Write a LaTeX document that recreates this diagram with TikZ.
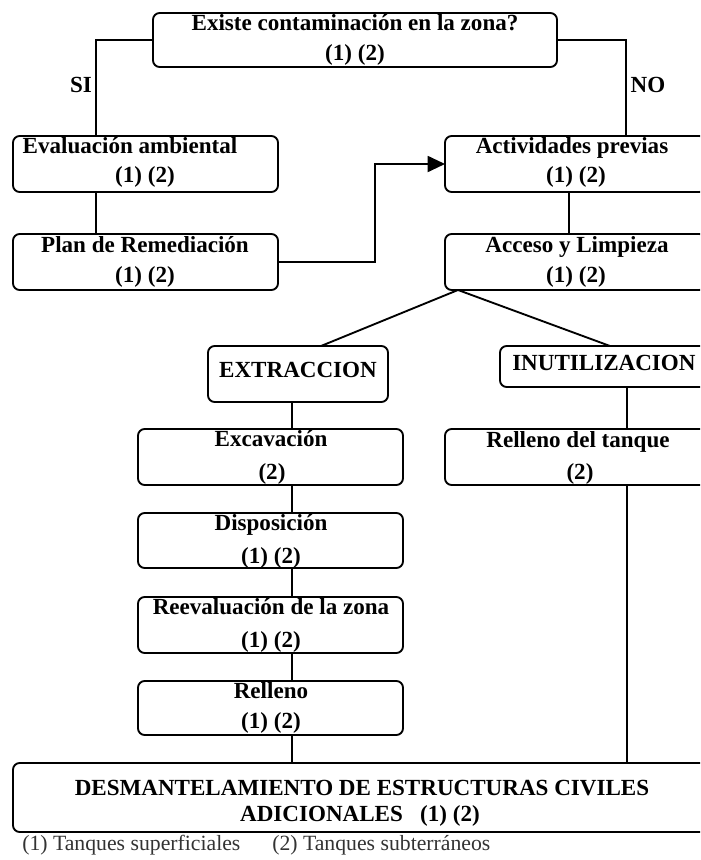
\documentclass[tikz,border=0pt]{standalone}
\usepackage{fontspec}
\setmainfont{Liberation Serif}
\usetikzlibrary{arrows.meta,fit}
\begin{document}
\begin{tikzpicture}[x=0.75pt,y=-0.75pt,
  box/.style={draw, rounded corners=5pt, line width=1.4pt, inner sep=0pt, outer sep=0pt},
  lbl/.style={font=\fontsize{17.3}{20}\selectfont\bfseries, inner sep=0pt, text height=0.7em, text depth=0.2em},
  note/.style={font=\fontsize{16.3}{18}\selectfont, inner sep=0pt, anchor=west, text=black!80, text height=0.7em, text depth=0.2em},
  conn/.style={line width=1.4pt},
]
\clip (0,0) rectangle (700,860);
% boxes
\node[box, fit={(153,13)(557,67)}] (q) {};
\node[box, fit={(13,136)(278,192)}] (ev) {};
\node[box, fit={(13,234)(278,290)}] (pl) {};
\node[box, fit={(445,136)(706,192)}] (act) {};
\node[box, fit={(445,234)(706,290)}] (acc) {};
\node[box, fit={(208,346)(388,402)}] (ext) {};
\node[box, fit={(500,346)(722,387)}] (inu) {};
\node[box, fit={(138,429)(403,485)}] (exc) {};
\node[box, fit={(445,429)(712,485)}] (rt) {};
\node[box, fit={(138,513)(403,568)}] (dis) {};
\node[box, fit={(138,597)(403,653)}] (ree) {};
\node[box, fit={(138,681)(403,735)}] (rel) {};
\node[box, fit={(13,763)(708,832)}] (des) {};
% texts
\node[lbl] (qt) at (355,27) {Existe contaminación en la zona?};
\node[lbl] (qs) at (355,57) {(1) (2)};
\node[lbl] (si) at (81,89) {SI};
\node[lbl] (no) at (648,89) {NO};
\node[lbl] (evt) at (130,150) {Evaluación ambiental};
\node[lbl] (evs) at (145,179) {(1) (2)};
\node[lbl] (plt) at (145,249) {Plan de Remediación};
\node[lbl] (pls) at (145,279) {(1) (2)};
\node[lbl] (actt) at (572,150) {Actividades previas};
\node[lbl] (acts) at (576,179) {(1) (2)};
\node[lbl] (acct) at (577,249) {Acceso y Limpieza};
\node[lbl] (accs) at (576,279) {(1) (2)};
\node[lbl] (extt) at (298,374) {EXTRACCION};
\node[lbl, anchor=west] (inut) at (512,367) {INUTILIZACION};
\node[lbl] (exct) at (271,443) {Excavación};
\node[lbl] (excs) at (272,476) {(2)};
\node[lbl] (rtt) at (578,444) {Relleno del tanque};
\node[lbl] (rts) at (580,476) {(2)};
\node[lbl] (dist) at (271,527) {Disposición};
\node[lbl] (diss) at (271,560) {(1) (2)};
\node[lbl] (reet) at (271,611) {Reevaluación de la zona};
\node[lbl] (rees) at (271,644) {(1) (2)};
\node[lbl] (relt) at (271,695) {Relleno};
\node[lbl] (rels) at (271,725) {(1) (2)};
\node[lbl] (d1) at (362,792) {DESMANTELAMIENTO DE ESTRUCTURAS CIVILES};
\node[lbl] (d2) at (360,818) {ADICIONALES\hspace{0.75em}(1) (2)};
\node[note] (n1) at (22,847) {(1) Tanques superficiales};
\node[note] (n2) at (272,847) {(2) Tanques subterráneos};
% connectors
\coordinate (evin) at (96,136);
\coordinate (actin) at (626,136);
\coordinate (bend) at (375,164);
\coordinate (br) at (458,290);
\coordinate (extin) at (321,346);
\coordinate (inuin) at (610,346);
\draw[conn] (q.west) -| (evin);
\draw[conn] (q.east) -| (actin);
\draw[conn] (ev.south -| 96,0) -- (pl.north -| 96,0);
\draw[conn, -{Triangle[length=13pt,width=12pt]}] (pl.east) -| (bend) -- (act.west);
\draw[conn] (act.south -| 569,0) -- (acc.north -| 569,0);
\draw[conn] (br) -- (extin);
\draw[conn] (br) -- (inuin);
\draw[conn] (ext.south -| 292,0) -- (exc.north -| 292,0);
\draw[conn] (inu.south -| 627,0) -- (rt.north -| 627,0);
\draw[conn] (exc.south -| 292,0) -- (dis.north -| 292,0);
\draw[conn] (dis.south -| 292,0) -- (ree.north -| 292,0);
\draw[conn] (ree.south -| 292,0) -- (rel.north -| 292,0);
\draw[conn] (rel.south -| 292,0) -- (des.north -| 292,0);
\draw[conn] (rt.south -| 627,0) -- (des.north -| 627,0);
\end{tikzpicture}
\end{document}
